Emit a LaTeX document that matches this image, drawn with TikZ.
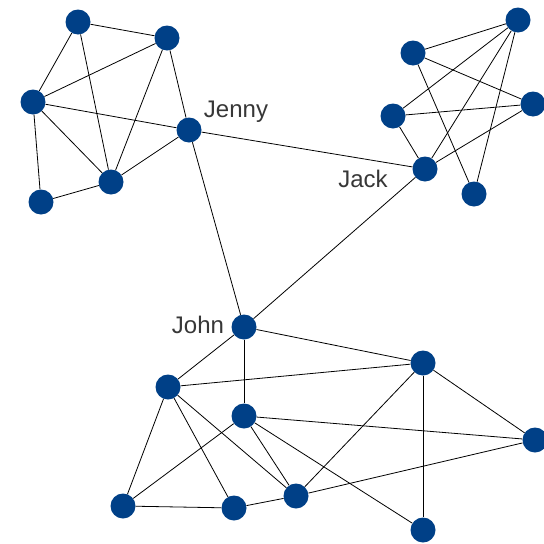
\documentclass[tikz,border=0pt]{standalone}
\usepackage{fontspec}
\setmainfont{Liberation Sans}
\usetikzlibrary{positioning}
\definecolor{nodeblue}{RGB}{0,64,135}
\definecolor{labelgray}{RGB}{55,55,55}

\begin{document}
\begin{tikzpicture}[x=1pt, y=-1pt,
  person/.style={circle, fill=nodeblue, minimum size=25pt, inner sep=0pt},
  lbl/.style={text=labelgray, font=\fontsize{24}{28}\selectfont, anchor=base, inner sep=0pt},
  every edge/.style={draw, line width=0.8pt}]
\useasboundingbox (0,0) rectangle (544,544);

% upper left group
\node[person] (l1) at (78,22) {};
\node[person] (l2) at (167,38) {};
\node[person] (l3) at (33,102) {};
\node[person] (jenny) at (189,130) {};
\node[person] (l4) at (111,182) {};
\node[person] (l5) at (41,202) {};

% upper right group
\node[person] (r1) at (518,20) {};
\node[person] (r2) at (413,53) {};
\node[person] (r3) at (393,116) {};
\node[person] (r4) at (533,104) {};
\node[person] (jack) at (425,169) {};
\node[person] (r5) at (474,194) {};

% lower group
\node[person] (john) at (244,327) {};
\node[person] (b1) at (423,363) {};
\node[person] (b2) at (168,387) {};
\node[person] (b3) at (244,416) {};
\node[person] (b4) at (535,440) {};
\node[person] (b5) at (123,506) {};
\node[person] (b6) at (234,508) {};
\node[person] (b7) at (296,496) {};
\node[person] (b8) at (423,530) {};

\node[lbl] (tjenny) at (236,117) {Jenny};
\node[lbl] (tjack) at (363,187) {Jack};
\node[lbl] (tjohn) at (198,333) {John};

\path
  (l1) edge (l2) (l1) edge (l3) (l1) edge (l4)
  (l2) edge (l3) (l2) edge (l4) (l2) edge (jenny)
  (l3) edge (jenny) (l3) edge (l4) (l3) edge (l5)
  (l5) edge (l4) (l4) edge (jenny)
  (r1) edge (r2) (r1) edge (r3) (r1) edge (jack) (r1) edge (r5)
  (r2) edge (r4) (r2) edge (r5)
  (r3) edge (r4) (r3) edge (jack) (r4) edge (jack)
  (john) edge (b1) (john) edge (b2) (john) edge (b3)
  (b2) edge (b1) (b2) edge (b5) (b2) edge (b6) (b2) edge (b7)
  (b3) edge (b4) (b3) edge (b5) (b3) edge (b7) (b3) edge (b8)
  (b1) edge (b7) (b1) edge (b8) (b1) edge (b4)
  (b7) edge (b4) (b5) edge (b6) (b6) edge (b7)
  (jenny) edge (jack) (jenny) edge (john) (jack) edge (john)
;
\end{tikzpicture}
\end{document}
